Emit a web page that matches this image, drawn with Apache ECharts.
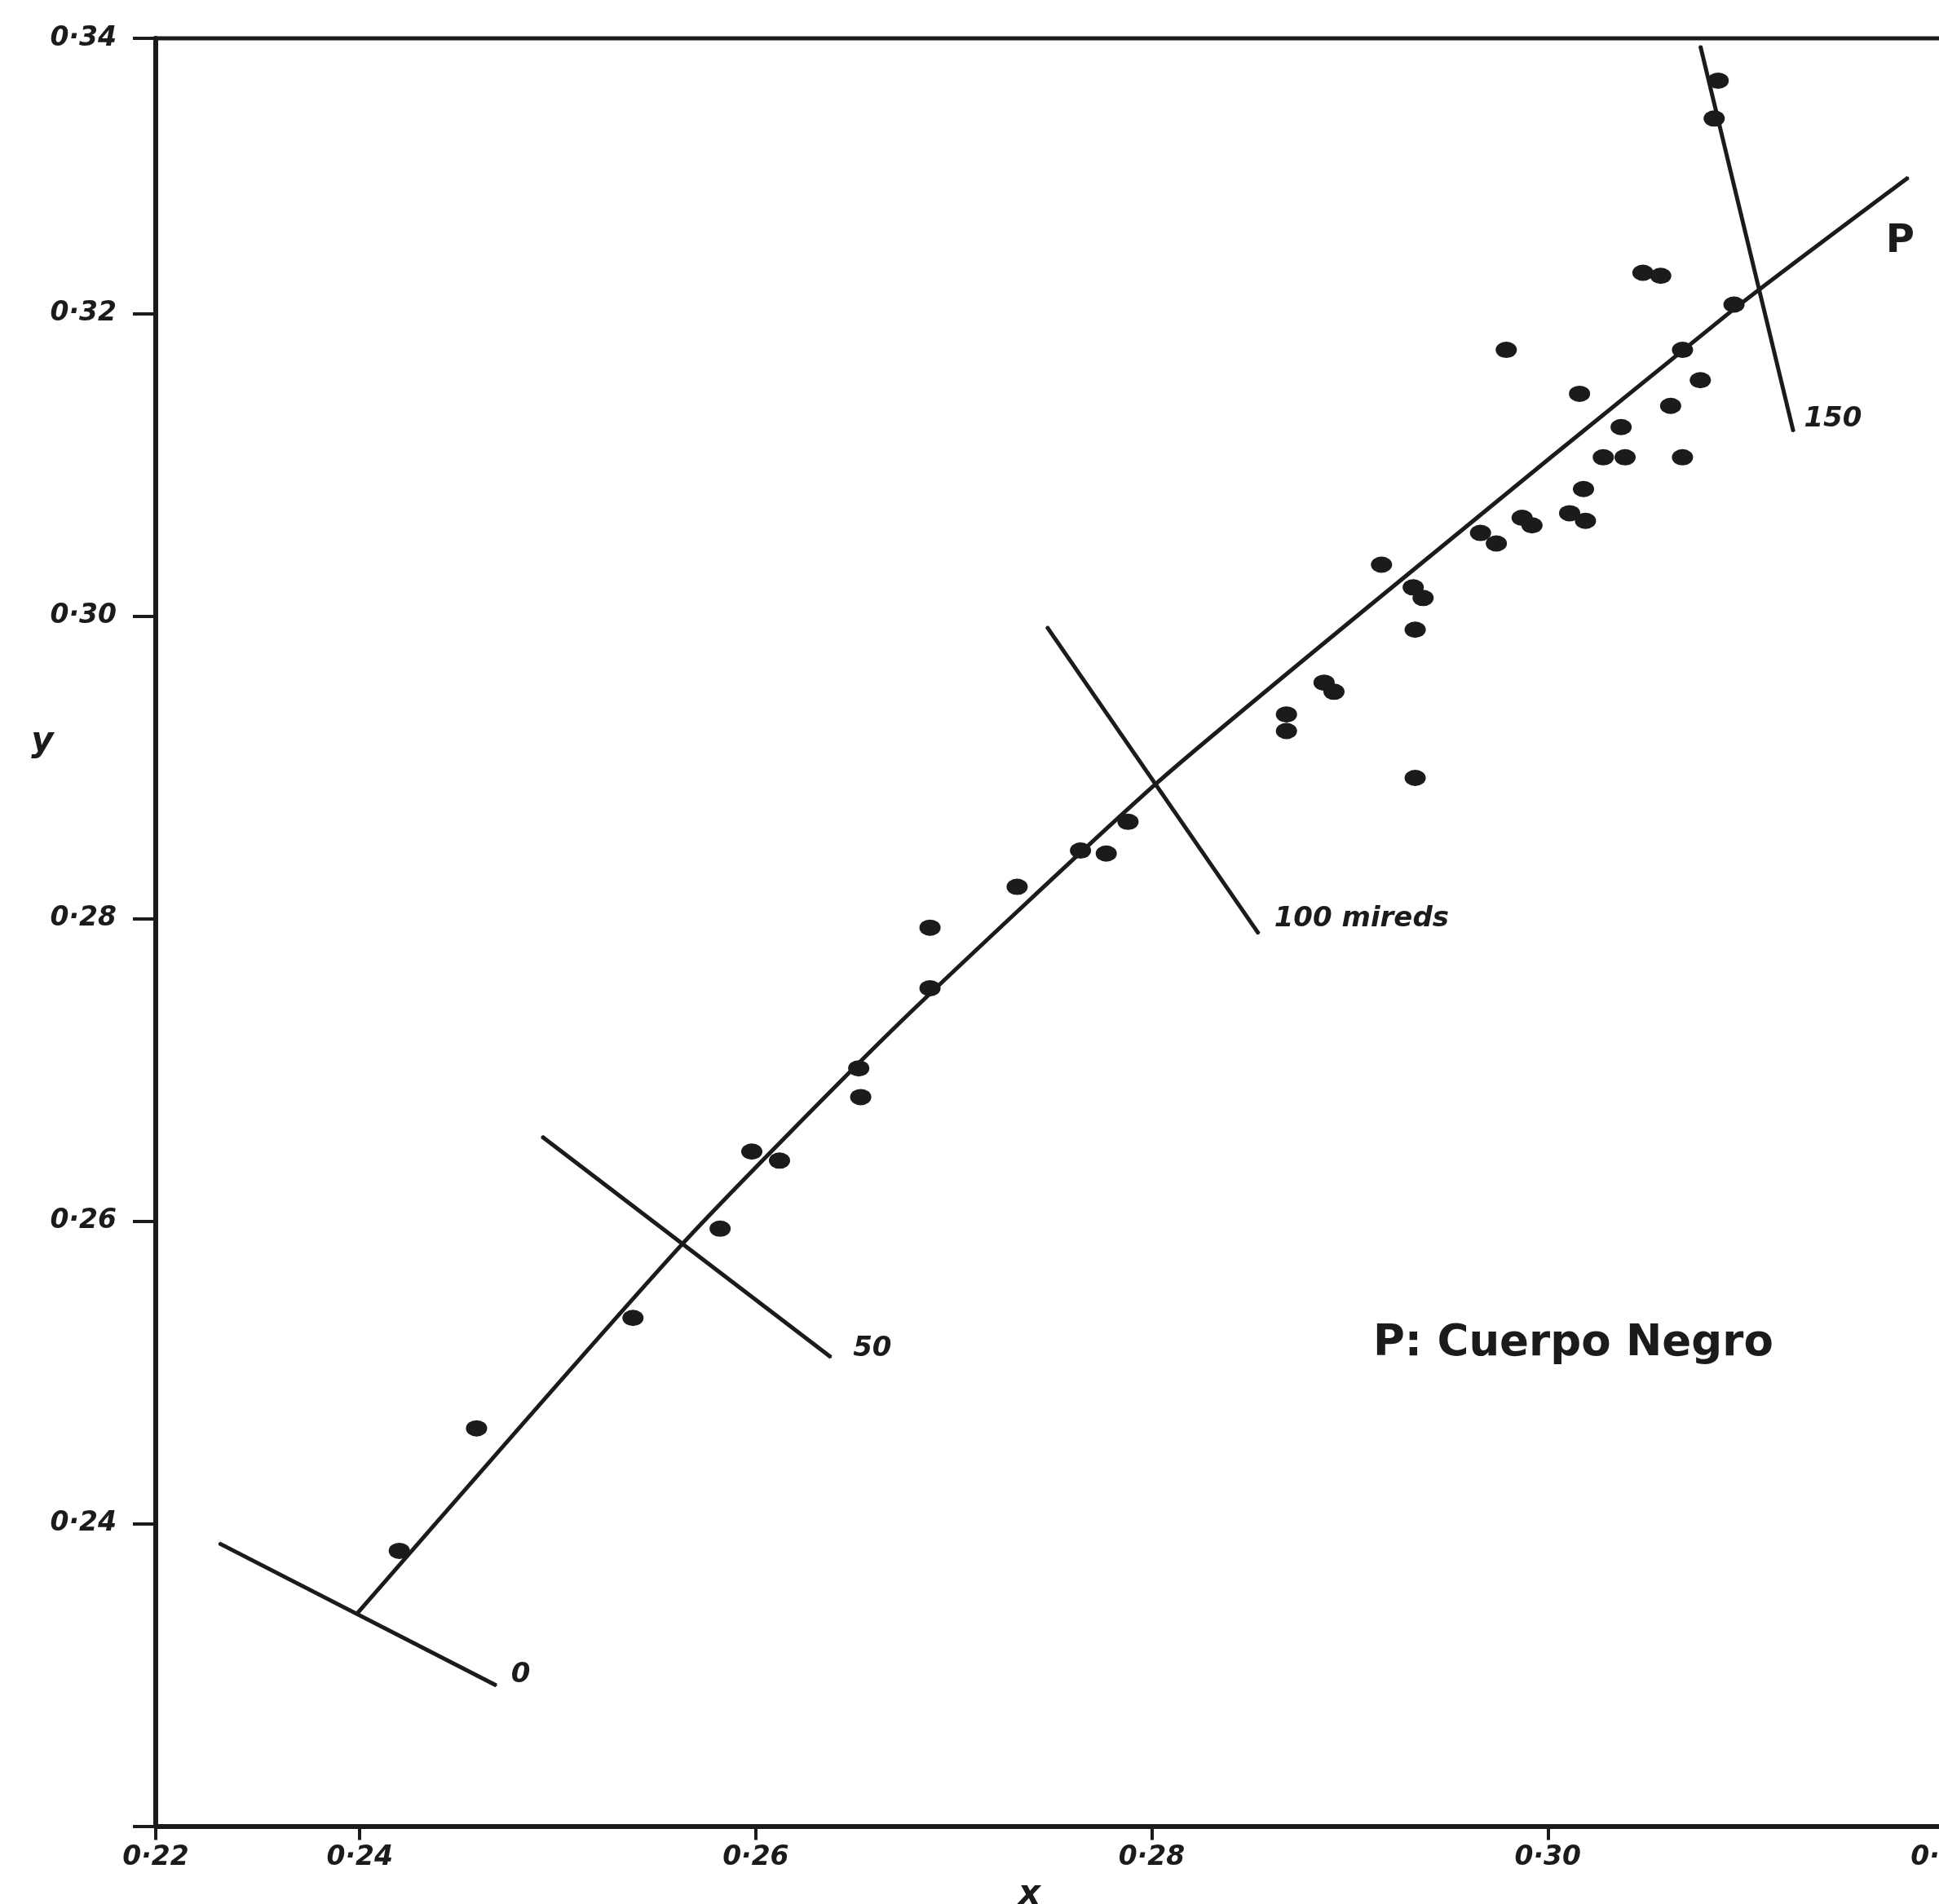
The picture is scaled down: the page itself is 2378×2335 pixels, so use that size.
<!DOCTYPE html>
<html>
<head>
<meta charset="utf-8">
<script src="https://cdn.jsdelivr.net/npm/echarts@6/dist/echarts.min.js"></script>
<style>
  html, body { margin: 0; padding: 0; background: #ffffff; }
  #chart { width: 2378px; height: 2335px; }
</style>
</head>
<body>
<div id="chart"></div>
<script>
// Chromaticity coordinates (x, y) of the measured sources
const sourceX = [0.2420, 0.2459, 0.2538, 0.2582, 0.2598, 0.2612, 0.2652, 0.2653, 0.2688, 0.2688,
                 0.2732, 0.2764, 0.2777, 0.2788, 0.2868, 0.2868, 0.2887, 0.2892, 0.2916, 0.2932,
                 0.2937, 0.2933, 0.2933, 0.2966, 0.2974, 0.2987, 0.2992, 0.2979, 0.3011, 0.3019,
                 0.3018, 0.3016, 0.3028, 0.3039, 0.3037, 0.3048, 0.3057, 0.3062, 0.3068, 0.3068,
                 0.3077, 0.3086, 0.3084, 0.3094];
const sourceY = [0.2382, 0.2463, 0.2536, 0.2595, 0.2646, 0.2640, 0.2701, 0.2682, 0.2754, 0.2794,
                 0.2821, 0.2845, 0.2843, 0.2864, 0.2935, 0.2924, 0.2956, 0.2950, 0.3034, 0.3019,
                 0.3012, 0.2991, 0.2893, 0.3055, 0.3048, 0.3065, 0.3060, 0.3176, 0.3068, 0.3063,
                 0.3084, 0.3147, 0.3105, 0.3105, 0.3125, 0.3227, 0.3225, 0.3139, 0.3176, 0.3105,
                 0.3156, 0.3354, 0.3329, 0.3206];

// Planckian (black-body) locus P
const locusX = [0.2399, 0.2563, 0.2671, 0.2802, 0.2911, 0.3093, 0.3182];
const locusY = [0.2341, 0.2585, 0.2729, 0.2889, 0.3008, 0.3202, 0.3290];
const locusName = 'P';

// Iso-temperature lines crossing the locus (mireds)
const miredNames  = ['0', '50', '100 mireds', '150'];
const miredStartX = [0.2329, 0.2492, 0.2747, 0.3077];
const miredStartY = [0.2387, 0.2656, 0.2993, 0.3377];
const miredEndX   = [0.2469, 0.2638, 0.2854, 0.3124];
const miredEndY   = [0.2293, 0.2510, 0.2790, 0.3122];

// Axis ticks (the frame corners carry the 0·22 and 0·34 marks)
const xTickValues = [0.2297, 0.24, 0.26, 0.28, 0.30, 0.32];
const xTickLabels = ['0·22', '0·24', '0·26', '0·28', '0·30', '0·32'];
const yTickValues = [0.22, 0.24, 0.26, 0.28, 0.30, 0.32, 0.3382];
const yTickLabels = ['', '0·24', '0·26', '0·28', '0·30', '0·32', '0·34'];

const xName = 'x';
const yName = 'y';
const legendText = 'P: Cuerpo Negro';

const INK = '#1b1b1b';
const LETTER = 'DejaVu Sans';

function tickLabel(values, labels) {
  return function (v) {
    const i = values.findIndex(t => Math.abs(t - v) < 1e-6);
    return i < 0 ? '' : labels[i];
  };
}

const chart = echarts.init(document.getElementById('chart'), null, { renderer: 'canvas' });

const miredSeries = miredNames.map((name, i) => ({
  type: 'line',
  name: name,
  silent: true,
  symbol: 'circle',
  symbolSize: 2,
  itemStyle: { color: INK },
  lineStyle: { color: INK, width: 5 },
  z: 3,
  data: [
    { value: [miredStartX[i], miredStartY[i]] },
    {
      value: [miredEndX[i], miredEndY[i]],
      label: {
        show: true,
        formatter: name,
        position: 'right',
        distance: [17, 26, 18, 12][i],
        offset: [0, [-13, -10, -18, -15][i]],
        color: INK,
        fontFamily: LETTER,
        fontStyle: 'italic',
        fontWeight: 'bold',
        fontSize: 34
      }
    }
  ]
}));

const locusData = locusX.map((x, i) => {
  const item = { value: [x, locusY[i]] };
  if (i === locusX.length - 1) {
    item.label = {
      show: true,
      formatter: locusName,
      position: 'bottom',
      distance: 54,
      offset: [-10, 0],
      color: INK,
      fontFamily: LETTER,
      fontWeight: 'bold',
      fontSize: 48
    };
  }
  return item;
});

const option = {
  backgroundColor: '#ffffff',
  animation: false,
  title: {
    text: legendText,
    left: 1684,
    top: 1622,
    padding: 0,
    textStyle: {
      color: INK,
      fontFamily: LETTER,
      fontWeight: 'bold',
      fontSize: 53
    }
  },
  graphic: [
    {
      type: 'text',
      x: 52,
      y: 910,
      silent: true,
      style: {
        text: yName,
        fill: INK,
        fontFamily: LETTER,
        fontStyle: 'italic',
        fontWeight: 'bold',
        fontSize: 42,
        align: 'center',
        verticalAlign: 'middle'
      }
    }
  ],
  grid: {
    left: 191,
    right: -6,
    top: 47,
    bottom: 95.5,
    containLabel: false,
    outerBoundsMode: 'none',
    show: true,
    borderColor: INK,
    borderWidth: 5,
    backgroundColor: 'transparent'
  },
  xAxis: {
    type: 'value',
    min: xTickValues[0],
    max: 0.32,
    name: xName,
    nameLocation: 'middle',
    nameGap: 64,
    nameTextStyle: {
      color: INK,
      fontFamily: LETTER,
      fontStyle: 'italic',
      fontWeight: 'bold',
      fontSize: 42,
      align: 'center',
      verticalAlign: 'top',
      padding: [0, 50, 0, 0]
    },
    axisLine: { show: true, lineStyle: { color: INK, width: 6 } },
    axisTick: {
      show: true,
      inside: false,
      length: 17,
      customValues: xTickValues,
      lineStyle: { color: INK, width: 4 }
    },
    axisLabel: {
      show: true,
      customValues: xTickValues,
      formatter: tickLabel(xTickValues, xTickLabels),
      showMinLabel: true,
      showMaxLabel: true,
      margin: 22,
      color: INK,
      fontFamily: LETTER,
      fontStyle: 'italic',
      fontWeight: 'bold',
      fontSize: 33
    },
    splitLine: { show: false }
  },
  yAxis: {
    type: 'value',
    min: 0.22,
    max: yTickValues[yTickValues.length - 1],
    axisLine: { show: true, lineStyle: { color: INK, width: 6 } },
    axisTick: {
      show: true,
      inside: false,
      length: 28,
      customValues: yTickValues,
      lineStyle: { color: INK, width: 4 }
    },
    axisLabel: {
      show: true,
      customValues: yTickValues,
      formatter: tickLabel(yTickValues, yTickLabels),
      showMinLabel: true,
      showMaxLabel: true,
      margin: 48,
      color: INK,
      fontFamily: LETTER,
      fontStyle: 'italic',
      fontWeight: 'bold',
      fontSize: 33
    },
    splitLine: { show: false }
  },
  series: [
    {
      type: 'line',
      name: locusName,
      silent: true,
      smooth: 0.2,
      symbol: 'circle',
      symbolSize: 2,
      itemStyle: { color: INK },
      lineStyle: { color: INK, width: 5 },
      z: 3,
      data: locusData
    },
    ...miredSeries,
    {
      type: 'scatter',
      name: 'fuentes',
      silent: true,
      symbol: 'circle',
      symbolSize: [26, 20],
      itemStyle: { color: INK, opacity: 1 },
      z: 5,
      data: sourceX.map((x, i) => [x, sourceY[i]])
    }
  ]
};

chart.setOption(option);
</script>
</body>
</html>
